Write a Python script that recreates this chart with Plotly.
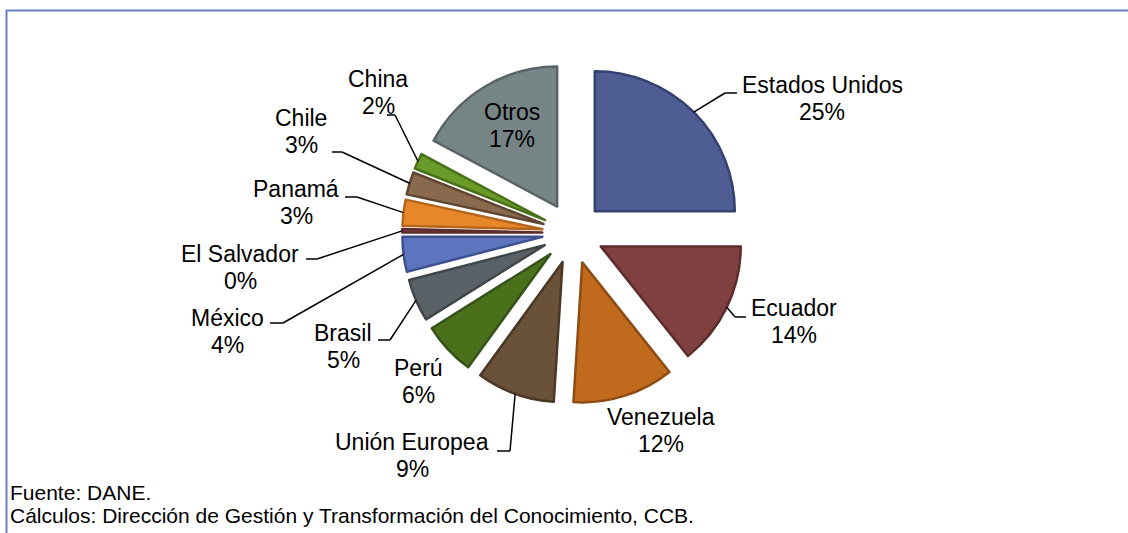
import math
import plotly.graph_objects as go

# ---- data ----
countries = ["Estados Unidos", "Ecuador", "Venezuela", "Unión Europea", "Perú", "Brasil",
             "México", "El Salvador", "Panamá", "Chile", "China", "Otros"]
shares = [25.0, 14.3, 11.7, 9.0, 6.1, 4.9, 4.0, 0.4, 3.0, 2.6, 1.8, 17.2]
fill_colors = ["#4E5E94", "#80403F", "#C06A1E", "#6A5139", "#4A701B", "#5A6268",
               "#5C75BE", "#84403F", "#E8862A", "#8A6A4E", "#6A9A28", "#788587"]
line_colors = ["#34406E", "#5C2C2D", "#8E4C12", "#4A3826", "#34521A", "#3F464A",
               "#3E5292", "#5C2C2D", "#B4661C", "#5E4632", "#4A711A", "#596466"]
source_lines = ["Fuente: DANE.",
                "Cálculos: Dirección de Gestión y Transformación del Conocimiento, CCB."]

# ---- layout settings (pixels) ----
W, H = 1128, 533
CX, CY = 573, 233          # pie centre
R = 140                    # pie radius
PULL = 0.22
LINE_GAP = 27
# label centres (x, y of first line), and connector elbow/end points (None = no connector)
label_pos = [(822, 85), (794, 308), (661, 417), (412, 442), (418, 368), (343, 333),
             (227, 318), (240, 254), (296, 189), (301, 118), (378, 79), (512, 112)]
elbows = [((725, 93), 737), ((735, 317), 746), None, ((510, 451), 497), None, ((390, 340), 378),
          ((283, 323), 270), ((317, 259), 306), ((357, 197), 345), ((342, 152), 332),
          ((395, 115), 387), None]

FONT = "Liberation Sans, Arial, sans-serif"


def px(x):
    return x / W


def py(y):
    return 1 - y / H


box_h = R * (1 + PULL) * 2
box_w = box_h * 1.5
fig = go.Figure(go.Pie(
    labels=countries, values=shares, sort=False, direction="clockwise", rotation=0,
    pull=[PULL] * len(shares),
    marker=dict(colors=fill_colors, line=dict(color=line_colors, width=2.5)),
    textinfo="none", hoverinfo="label+percent", showlegend=False,
    domain=dict(x=[px(CX - box_w / 2), px(CX + box_w / 2)],
                y=[py(CY + box_h / 2), py(CY - box_h / 2)]),
))

total = sum(shares)
annotations = []
shapes = []
cum = 0.0
for name, v, lp, el in zip(countries, shares, label_pos, elbows):
    mid = (cum + v / 2) / total * 2 * math.pi
    cum += v
    pct = round(v / total * 100)
    for k, line in enumerate([name, f"{pct}%"]):
        annotations.append(dict(
            x=px(lp[0]), y=py(lp[1] + k * LINE_GAP), xref="paper", yref="paper", showarrow=False,
            text=line, font=dict(family=FONT, size=23, color="#000000"),
            xanchor="center", yanchor="middle", align="center"))
    if el is not None:
        ex0 = CX + R * (1 + PULL) * math.sin(mid)
        ey0 = CY - R * (1 + PULL) * math.cos(mid)
        (ex, ey), hx = el
        for (a, b), (c, d) in [((ex0, ey0), (ex, ey)), ((ex, ey), (hx, ey))]:
            shapes.append(dict(type="line", xref="paper", yref="paper",
                               x0=px(a), y0=py(b), x1=px(c), y1=py(d),
                               line=dict(color="#000000", width=1.5)))

# source notes
for i, t in enumerate(source_lines):
    annotations.append(dict(
        x=px(8), y=py(492 + 23 * i), xref="paper", yref="paper", showarrow=False,
        text=t, font=dict(family=FONT, size=21, color="#000000"),
        xanchor="left", yanchor="middle", align="left"))

# frame (top and left edges visible)
frame_col = "#6A80C2"
shapes.append(dict(type="line", xref="paper", yref="paper", x0=px(6), y0=py(10.5), x1=1, y1=py(10.5),
                   line=dict(color=frame_col, width=2)))
shapes.append(dict(type="line", xref="paper", yref="paper", x0=px(6.5), y0=py(10), x1=px(6.5), y1=0,
                   line=dict(color=frame_col, width=2)))

fig.update_layout(width=W, height=H, margin=dict(l=0, r=0, t=0, b=0),
                  paper_bgcolor="white", plot_bgcolor="white",
                  annotations=annotations, shapes=shapes)

fig.write_html("out.html", config={"displayModeBar": False},
               post_script="document.body.style.margin='0';")
